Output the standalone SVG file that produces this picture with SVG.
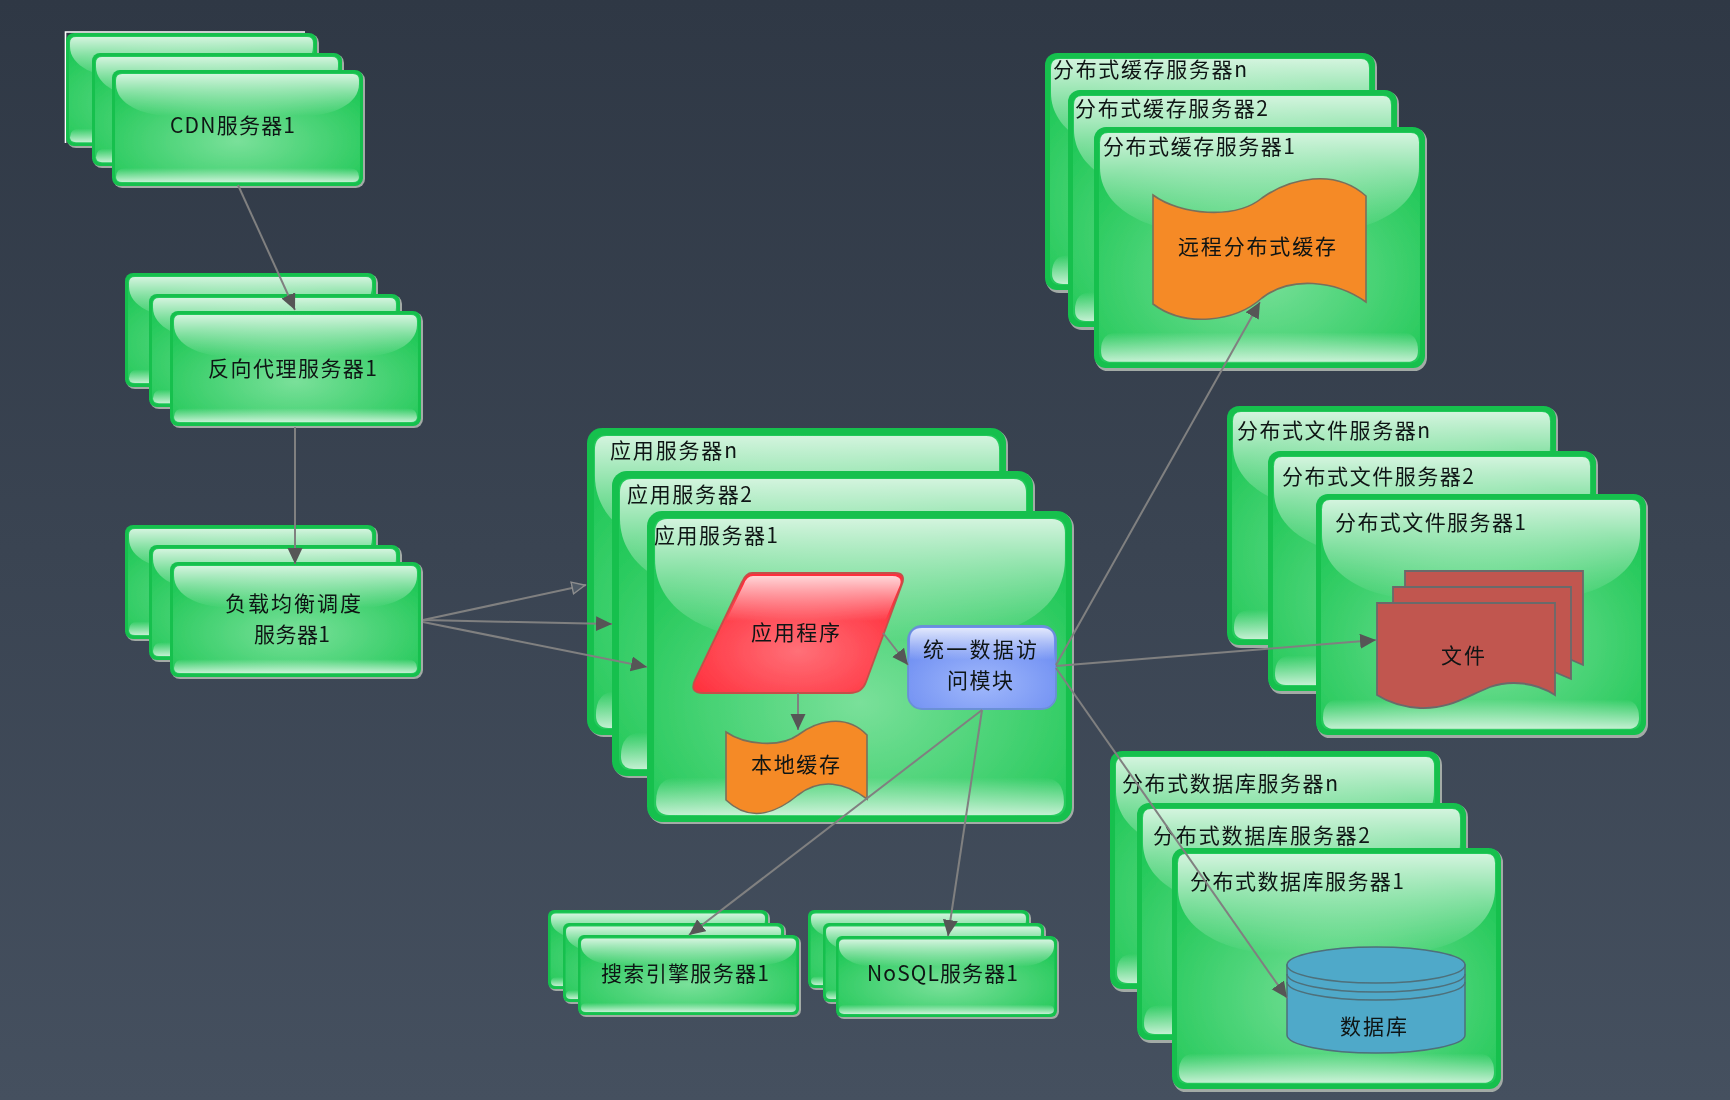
<svg xmlns="http://www.w3.org/2000/svg" width="1730" height="1100" viewBox="0 0 1730 1100">
<style>
g[id]{filter:url(#soft)}
text{font-family:"Noto Sans CJK SC","Liberation Sans",sans-serif;font-size:21px;fill:#101312}
.conn{stroke:#808080;stroke-width:2;fill:none;marker-end:url(#arrow)}
.wave{fill:#f58a27;stroke:#78705c;stroke-width:1.6}
.doc{fill:#c15750;stroke:#6a6a6a;stroke-width:1.8}
.cyl{fill:#4fa9c9;stroke:#4f6f7a;stroke-width:1.5}
.halo{fill:#a3aba6}
.edge{fill:#12c04e}
.body{fill:url(#bodyGrad)}
.gt{fill:url(#glossTop)}
.gb{fill:url(#glossBottom)}
</style>
<defs>
<filter id="soft" x="-2%" y="-2%" width="104%" height="104%"><feGaussianBlur stdDeviation="0.55"/></filter>
<linearGradient id="bg" x1="0" y1="0" x2="0" y2="1"><stop offset="0" stop-color="#2f3845"/><stop offset="1" stop-color="#45505f"/></linearGradient>
<radialGradient id="bodyGrad" cx=".5" cy=".62" r=".62"><stop offset="0" stop-color="#7ae09a"/><stop offset="1" stop-color="#24c95a"/></radialGradient>
<linearGradient id="glossTop" x1="0" y1="0" x2="0" y2="1"><stop offset="0" stop-color="#fff" stop-opacity=".8"/><stop offset="1" stop-color="#fff" stop-opacity="0"/></linearGradient>
<linearGradient id="glossBottom" x1="0" y1="0" x2="0" y2="1"><stop offset="0" stop-color="#fff" stop-opacity="0"/><stop offset="1" stop-color="#fff" stop-opacity=".72"/></linearGradient>
<radialGradient id="redGrad" cx=".5" cy=".65" r=".6"><stop offset="0" stop-color="#ff7078"/><stop offset="1" stop-color="#ff2f3c"/></radialGradient>
<radialGradient id="blueGrad" cx=".5" cy=".7" r=".65"><stop offset="0" stop-color="#a0b8fb"/><stop offset="1" stop-color="#6d8df2"/></radialGradient>
<marker id="arrow" markerUnits="userSpaceOnUse" markerWidth="18" markerHeight="16" refX="16" refY="7.500" orient="auto"><path d="M0,0 L16,7.500 L0,15 Z" fill="#565656"/></marker>
<marker id="arrowOpen" markerUnits="userSpaceOnUse" markerWidth="18" markerHeight="16" refX="15" refY="7" orient="auto"><path d="M1,1 L14,7 L1,13 Z" fill="#4f5a66" stroke="#8e8e8e" stroke-width="1.4"/></marker>
<symbol id="boxXS" viewBox="0 0 222 81" preserveAspectRatio="none">
<rect class="halo" x="1" y="1" width="221" height="80" rx="7"/><rect class="edge" width="220" height="79" rx="6"/><rect class="body" x="2.500" y="2.500" width="215" height="74" rx="5"/>
<path class="gt" d="M8,3.500 H212 Q217,3.500 217,8 V10 C217,22 200,30 180,30 H40 C20,30 3,22 3,10 V8 Q3,3.500 8,3.500Z"/>
<path class="gb" d="M8,76 Q3,76 3,72 Q3,67 10,67 H210 Q217,67 217,72 Q217,76 212,76Z"/>
</symbol>
<symbol id="boxS" viewBox="0 0 252 118" preserveAspectRatio="none">
<rect class="halo" x="1" y="1" width="251" height="117" rx="9"/><rect class="edge" width="250" height="116" rx="8"/><rect class="body" x="3" y="3" width="244" height="110" rx="6"/>
<path class="gt" d="M10,4 H240 Q246,4 246,10 V14 C246,34 220,46 190,46 H60 C30,46 4,34 4,14 V10 Q4,4 10,4Z"/>
<path class="gb" d="M10,112 Q4,112 4,107 Q4,98 14,98 H236 Q246,98 246,107 Q246,112 240,112Z"/>
</symbol>
<symbol id="boxM" viewBox="0 0 332 240" preserveAspectRatio="none">
<rect class="halo" x="1" y="1" width="331" height="239" rx="13"/><rect class="edge" width="330" height="237" rx="12"/><rect class="body" x="5" y="5" width="320" height="227" rx="9"/>
<path class="gt" d="M14,6 H316 Q324,6 324,15 V40 C324,78 280,104 220,104 H110 C50,104 6,78 6,40 V15 Q6,6 14,6Z"/>
<path class="gb" d="M18,231 Q7,231 7,220 Q7,202 24,202 H306 Q323,202 323,220 Q323,231 312,231Z"/>
</symbol>
<symbol id="boxL" viewBox="0 0 424 310" preserveAspectRatio="none">
<rect class="halo" x="1" y="1" width="423" height="309" rx="16"/><rect class="edge" width="422" height="308" rx="15"/><rect class="body" x="7" y="7" width="409" height="295" rx="11"/>
<path class="gt" d="M20,8 H402 Q415,8 415,22 V48 C415,100 360,128 290,128 H134 C64,128 8,100 8,48 V22 Q8,8 20,8Z"/>
<path class="gb" d="M22,301 Q9,301 9,288 Q9,264 30,264 H393 Q414,264 414,288 Q414,301 401,301Z"/>
</symbol>
</defs>
<rect width="1730" height="1100" fill="url(#bg)"/>

<g id="cdn-stack">
<path d="M65.500,143 V32 H305" fill="none" stroke="#fff" stroke-width="1.600"/>
<use href="#boxS" x="66" y="33" width="253" height="115"/>
<use href="#boxS" x="92" y="53" width="252" height="115"/>
<use href="#boxS" x="112" y="70" width="253" height="118"/>
<text x="170" y="133" textLength="125">CDN服务器1</text>
</g>
<g id="proxy-stack">
<use href="#boxS" x="125" y="273" width="253" height="116"/>
<use href="#boxS" x="149" y="294" width="253" height="115"/>
<use href="#boxS" x="170" y="311" width="253" height="117"/>
<text x="208" y="376" textLength="169">反向代理服务器1</text>
</g>
<g id="lb-stack">
<use href="#boxS" x="125" y="525" width="253" height="116"/>
<use href="#boxS" x="149" y="545" width="253" height="117"/>
<use href="#boxS" x="170" y="562" width="253" height="117"/>
<text x="225" y="611" textLength="136">负载均衡调度</text>
<text x="254" y="642" textLength="76">服务器1</text>
</g>
<g id="app-stack">
<use href="#boxL" x="587" y="428" width="421" height="309"/>
<text x="610" y="458" textLength="127">应用服务器n</text>
<use href="#boxL" x="612" y="471" width="423" height="307"/>
<text x="627" y="502" textLength="125">应用服务器2</text>
<use href="#boxL" x="647" y="511" width="427" height="313"/>
<text x="654" y="543" textLength="124">应用服务器1</text>
</g>
<g id="app-program">
<path d="M752,573 H895 Q906,573 902,584 L866,682 Q862,693 850,693 H703 Q689,693 695,680 L742,582 Q746,573 752,573Z" fill="url(#redGrad)" stroke="#c4504a" stroke-width="1.800"/>
<path d="M753,576 H892 Q903,576 900,585 L885,621 H726 L744,584 Q747,576 753,576Z" fill="url(#glossTop)"/>
<text x="751" y="640" textLength="89">应用程序</text>
</g>
<g id="local-cache">
<path class="wave" d="M726,732 C745,745 780,748 798,735 C815,722 845,712 867,735 V799 C845,782 820,778 798,795 C780,810 752,825 726,800Z"/>
<text x="751" y="772" textLength="89">本地缓存</text>
</g>
<g id="data-access">
<rect x="908" y="626" width="148" height="83" rx="14" fill="url(#blueGrad)" stroke="#6a90d6" stroke-width="1.800"/>
<path d="M922,628 H1042 Q1054,628 1054,640 V660 H910 V640 Q910,628 922,628Z" fill="url(#glossTop)"/>
<text x="923" y="657" textLength="114">统一数据访</text>
<text x="947" y="688" textLength="66">问模块</text>
</g>
<g id="cache-stack">
<use href="#boxM" x="1045" y="53" width="332" height="240"/>
<text x="1053" y="77" textLength="194">分布式缓存服务器n</text>
<use href="#boxM" x="1068" y="90" width="331" height="240"/>
<text x="1075" y="116" textLength="193">分布式缓存服务器2</text>
<use href="#boxM" x="1094" y="127" width="333" height="244"/>
<text x="1103" y="154" textLength="192">分布式缓存服务器1</text>
</g>
<g id="remote-cache">
<path class="wave" d="M1153,195 C1180,215 1235,220 1262,198 C1290,178 1335,168 1366,196 V302 C1335,280 1290,276 1262,298 C1235,322 1185,328 1153,304Z"/>
<text x="1178" y="254" textLength="158">远程分布式缓存</text>
</g>
<g id="file-stack">
<use href="#boxM" x="1227" y="406" width="331" height="242"/>
<text x="1237" y="438" textLength="193">分布式文件服务器n</text>
<use href="#boxM" x="1268" y="451" width="330" height="243"/>
<text x="1282" y="484" textLength="192">分布式文件服务器2</text>
<use href="#boxM" x="1316" y="494" width="332" height="244"/>
<text x="1335" y="530" textLength="191">分布式文件服务器1</text>
</g>
<g id="file-doc">
<path class="doc" d="M1405,571 H1583 V665 L1560,655 H1405Z"/>
<path class="doc" d="M1393,587 H1571 V679 L1545,668 H1393Z"/>
<path class="doc" d="M1377,603 H1555 V695 C1535,682 1510,680 1490,687 C1465,697 1450,709 1420,708 C1403,707 1388,702 1377,695Z"/>
<text x="1441" y="663" textLength="44">文件</text>
</g>
<g id="db-stack">
<use href="#boxM" x="1110" y="751" width="332" height="241"/>
<text x="1122" y="791" textLength="216">分布式数据库服务器n</text>
<use href="#boxM" x="1137" y="803" width="331" height="240"/>
<text x="1153" y="843" textLength="217">分布式数据库服务器2</text>
<use href="#boxM" x="1172" y="848" width="331" height="244"/>
<text x="1190" y="889" textLength="214">分布式数据库服务器1</text>
</g>
<g id="database">
<path class="cyl" d="M1287,965 V1035 A89,18 0 0 0 1465,1035 V965Z"/>
<ellipse class="cyl" cx="1376" cy="965" rx="89" ry="18"/>
<path d="M1287,974 A89,18 0 0 0 1465,974 M1287,982 A89,18 0 0 0 1465,982" fill="none" stroke="#4f6f7a" stroke-width="1.500"/>
<text x="1340" y="1034" textLength="67">数据库</text>
</g>
<g id="search-stack">
<use href="#boxXS" x="548" y="910" width="222" height="81"/>
<use href="#boxXS" x="563" y="923" width="223" height="81"/>
<use href="#boxXS" x="578" y="935" width="223" height="82"/>
<text x="601" y="981" textLength="168">搜索引擎服务器1</text>
</g>
<g id="nosql-stack">
<use href="#boxXS" x="808" y="910" width="223" height="80"/>
<use href="#boxXS" x="823" y="923" width="223" height="81"/>
<use href="#boxXS" x="836" y="936" width="223" height="83"/>
<text x="867" y="981" textLength="151">NoSQL服务器1</text>
</g>

<g id="connectors">
<line class="conn" x1="238" y1="185" x2="295" y2="310"/>
<line class="conn" x1="295" y1="427" x2="295" y2="564"/>
<line class="conn" x1="423" y1="620" x2="586" y2="585" style="marker-end:url(#arrowOpen)"/>
<line class="conn" x1="423" y1="620" x2="612" y2="624"/>
<line class="conn" x1="423" y1="622" x2="647" y2="667"/>
<line class="conn" x1="883" y1="633" x2="908" y2="665"/>
<line class="conn" x1="798" y1="693" x2="798" y2="730"/>
<line class="conn" x1="1056" y1="665" x2="1260" y2="302"/>
<line class="conn" x1="1056" y1="666" x2="1376" y2="640"/>
<line class="conn" x1="1056" y1="668" x2="1287" y2="998"/>
<line class="conn" x1="982" y1="710" x2="689" y2="935"/>
<line class="conn" x1="982" y1="710" x2="948" y2="936"/>
</g>
</svg>
